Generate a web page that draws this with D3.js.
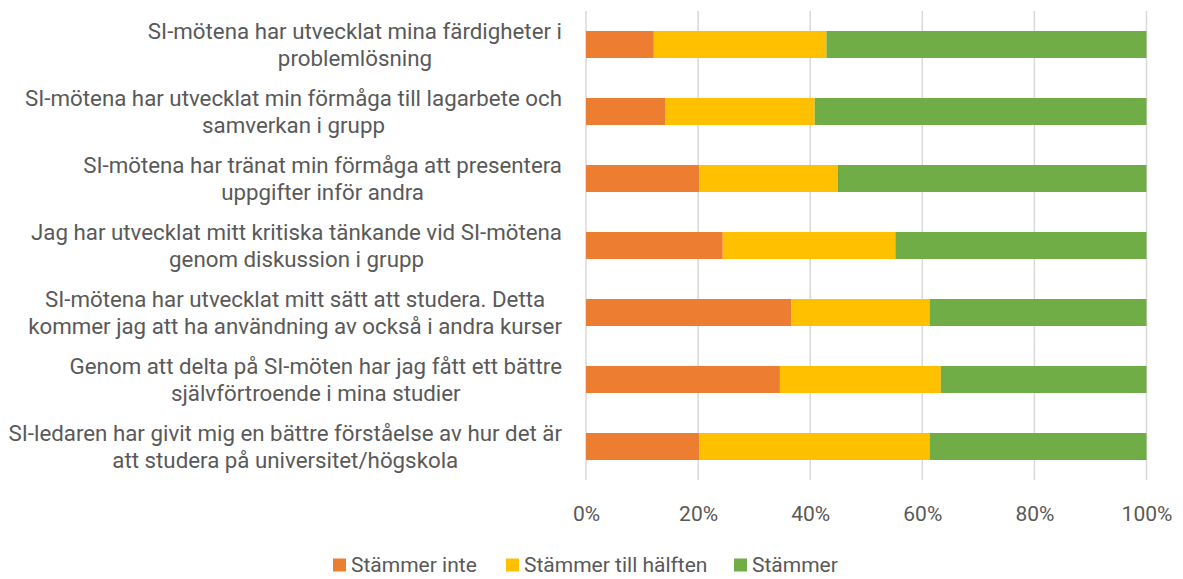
<!DOCTYPE html>
<html>
<head>
<meta charset="utf-8">
<script src="https://cdn.jsdelivr.net/npm/d3@7"></script>
<style>
  body { margin: 0; background: #fff; }
  text { font-family: "Roboto", "Liberation Sans", sans-serif; fill: #595959; }
</style>
</head>
<body>
<svg id="chart"></svg>
<script>
// Survey statements (top to bottom), each split into display lines
const statements = [
    ["SI-mötena har utvecklat mina färdigheter i", "problemlösning"],
    ["SI-mötena har utvecklat min förmåga till lagarbete och", "samverkan i grupp"],
    ["SI-mötena har tränat min förmåga att presentera", "uppgifter inför andra"],
    ["Jag har utvecklat mitt kritiska tänkande vid SI-mötena", "genom diskussion i grupp"],
    ["SI-mötena har utvecklat mitt sätt att studera. Detta", "kommer jag att ha användning av också i andra kurser"],
    ["Genom att delta på SI-möten har jag fått ett bättre", "självförtroende i mina studier"],
    ["SI-ledaren har givit mig en bättre förståelse av hur det är", "att studera på universitet/högskola"]
];

const seriesNames = ["Stämmer inte", "Stämmer till hälften", "Stämmer"];

// Shares in percent
const stammerInte = [12.1, 14.2, 20.2, 24.4, 36.6, 34.6, 20.2];
const stammerHalften = [30.8, 26.6, 24.7, 30.8, 24.7, 28.7, 41.1];
const stammer = [57.1, 59.2, 55.1, 44.8, 38.7, 36.7, 38.7];

const tickValues = [0, 0.2, 0.4, 0.6, 0.8, 1];

const colors = ["#ED7D31", "#FFC000", "#70AD47"];

const W = 1183, H = 579;
const plot = { left: 586, right: 1146.5, top: 11, bottom: 480 };

const svg = d3.select("#chart")
    .attr("width", W)
    .attr("height", H);

// Build rows for the stack
const rows = statements.map((s, i) => ({
    id: i,
    "Stämmer inte": stammerInte[i],
    "Stämmer till hälften": stammerHalften[i],
    "Stämmer": stammer[i]
}));

const stacked = d3.stack()
    .keys(seriesNames)
    .offset(d3.stackOffsetExpand)(rows);

const x = d3.scaleLinear()
    .domain([0, 1])
    .range([plot.left, plot.right]);

const y = d3.scaleBand()
    .domain(rows.map(d => d.id))
    .range([plot.top, plot.bottom])
    .paddingInner(0.597)
    .paddingOuter(0.2985);

// Vertical gridlines
svg.append("g")
    .selectAll("line")
    .data(tickValues)
    .enter().append("line")
    .attr("x1", d => x(d))
    .attr("x2", d => x(d))
    .attr("y1", plot.top)
    .attr("y2", plot.bottom)
    .attr("stroke", "#D9D9D9")
    .attr("stroke-width", 1.5);

// Bars
svg.append("g")
    .selectAll("g")
    .data(stacked)
    .enter().append("g")
    .attr("fill", (d, i) => colors[i])
    .selectAll("rect")
    .data(d => d)
    .enter().append("rect")
    .attr("x", d => x(d[0]))
    .attr("width", d => x(d[1]) - x(d[0]))
    .attr("y", d => y(d.data.id))
    .attr("height", y.bandwidth());

// X axis tick labels
const xAxis = svg.append("g")
    .attr("transform", "translate(0," + (plot.bottom + 14) + ")")
    .call(d3.axisBottom(x)
        .tickValues(tickValues)
        .tickFormat(d3.format(".0%"))
        .tickSize(0)
        .tickPadding(12));
xAxis.select(".domain").remove();
xAxis.selectAll("text")
    .attr("font-family", null)
    .style("font-size", "21px")
    .style("fill", "#595959");

// Category labels, centered block with widest line ending near the plot
const labelRight = 562;
const lineGap = 27.5;
statements.forEach((lines, i) => {
    const cy = y(i) + y.bandwidth() / 2;
    const g = svg.append("g");
    const texts = g.selectAll("text")
        .data(lines)
        .enter().append("text")
        .attr("text-anchor", "middle")
        .attr("dominant-baseline", "central")
        .style("font-size", "22.3px")
        .attr("y", (d, j) => cy + (j - (lines.length - 1) / 2) * lineGap)
        .text(d => d);
    let maxW = 0;
    texts.each(function() { maxW = Math.max(maxW, this.getComputedTextLength()); });
    texts.attr("x", labelRight - maxW / 2);
});

// Legend
const legendX = [333, 506, 734];
const legend = svg.append("g")
    .attr("transform", "translate(0,565)");
seriesNames.forEach((name, i) => {
    const item = legend.append("g").attr("transform", "translate(" + legendX[i] + ",0)");
    item.append("rect")
        .attr("x", 0)
        .attr("y", -6.5)
        .attr("width", 13)
        .attr("height", 13)
        .attr("fill", colors[i]);
    item.append("text")
        .attr("x", 18)
        .attr("dominant-baseline", "central")
        .style("font-size", "21px")
        .text(name);
});
</script>
</body>
</html>
